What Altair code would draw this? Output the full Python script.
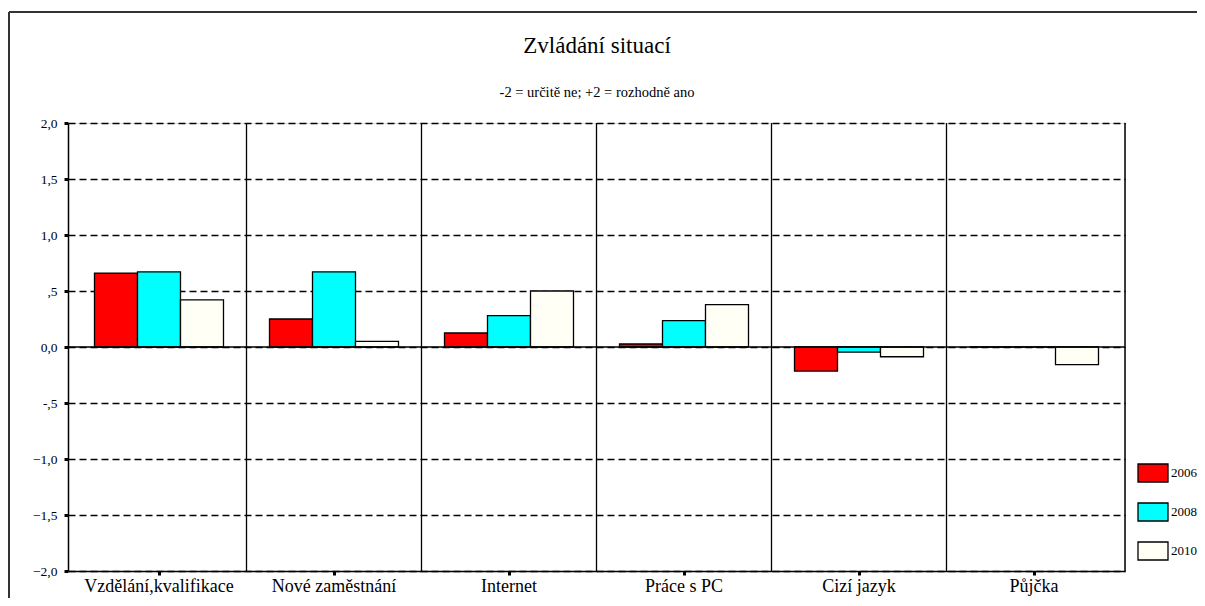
import altair as alt
import pandas as pd

categories = ["Vzdělání,kvalifikace", "Nové zaměstnání", "Internet", "Práce s PC", "Cizí jazyk", "Půjčka"]
years = ["2006", "2008", "2010"]
v2006 = [0.66, 0.25, 0.125, 0.027, -0.215, 0.0]
v2008 = [0.67, 0.67, 0.28, 0.235, -0.045, 0.0]
v2010 = [0.42, 0.05, 0.50, 0.378, -0.087, -0.158]
colors = ["#FF0000", "#00FFFF", "#FFFFF6"]
y_ticks = [-2.0, -1.5, -1.0, -0.5, 0.0, 0.5, 1.0, 1.5, 2.0]
title_text = "Zvládání situací"
subtitle_text = "-2 = určitě ne; +2 = rozhodně ano"

rows = []
for i, c in enumerate(categories):
    for y, vals in zip(years, [v2006, v2008, v2010]):
        rows.append({"cat": c, "year": y, "value": vals[i]})
df = pd.DataFrame(rows)
cat_df = pd.DataFrame({"cat": categories})
one = pd.DataFrame({"t": [title_text], "s": [subtitle_text]})

FONT = "Liberation Serif"

x_scale = alt.Scale(paddingInner=0, paddingOuter=0.02, round=False)
x_enc = alt.X("cat:N", sort=categories, title=None, scale=x_scale,
              axis=alt.Axis(labelAngle=0, labelFont=FONT, labelFontSize=18, labelColor="black",
                            labelPadding=2, tickSize=4, tickWidth=3, tickColor="black",
                            domainColor="black", domainWidth=1.5, grid=False))

y_scale = alt.Scale(domain=[-2, 2], nice=False)
label_expr = "datum.value == 0 ? '0,0' : (abs(datum.value) < 1 ? (datum.value < 0 ? '-' : '') + ',5' : replace(format(datum.value, '.1f'), '.', ','))"

bars = alt.Chart(df).mark_bar(stroke="black", strokeWidth=1.3).encode(
    x=x_enc,
    xOffset=alt.XOffset("year:N", sort=years,
                        scale=alt.Scale(paddingInner=0, paddingOuter=0.535)),
    y=alt.Y("value:Q", scale=y_scale, title=None,
            axis=alt.Axis(values=y_ticks, labelExpr=label_expr, labelFont=FONT, labelFontSize=13.5,
                          labelColor="black", labelPadding=7, tickSize=4, tickWidth=3,
                          tickColor="black", domainColor="black", domainWidth=1.5,
                          grid=True, gridColor="black", gridDash=[7, 4], gridWidth=1.3)),
    color=alt.Color("year:N", sort=years, scale=alt.Scale(domain=years, range=colors),
                    legend=alt.Legend(title=None, orient="none", legendX=1069, legendY=334,
                                      padding=0, symbolType="M-1,-0.6H1V0.6H-1Z", symbolSize=900,
                                      symbolStrokeColor="black", symbolStrokeWidth=1.3,
                                      symbolOpacity=1, labelFont=FONT, labelFontSize=13,
                                      labelColor="black", labelOffset=2, rowPadding=11)),
)

sep = alt.Chart(cat_df.iloc[1:]).mark_rule(color="black", strokeWidth=1.3).encode(
    x=alt.X("cat:N", sort=categories, scale=x_scale, bandPosition=0)
)
right_edge = alt.Chart(one).mark_rule(color="black", strokeWidth=1.5).encode(
    x=alt.value(1057), y=alt.value(0), y2=alt.value(448)
)
zero = alt.Chart(one).mark_rule(color="black", strokeWidth=1.3).encode(
    y=alt.datum(0)
)
frame_left = alt.Chart(one).mark_rule(color="#333", strokeWidth=2).encode(
    x=alt.value(-59), y=alt.value(-111), y2=alt.value(480)
)
frame_top = alt.Chart(one).mark_rule(color="#333", strokeWidth=2).encode(
    x=alt.value(-59), x2=alt.value(1129), y=alt.value(-111)
)
title = alt.Chart(one).mark_text(font=FONT, fontSize=23, color="black", align="center",
                                 baseline="alphabetic").encode(
    text="t:N", x=alt.value(529), y=alt.value(-70.5)
)
subtitle = alt.Chart(one).mark_text(font=FONT, fontSize=14.5, color="black", align="center",
                                    baseline="alphabetic").encode(
    text="s:N", x=alt.value(529), y=alt.value(-26)
)

chart = alt.layer(bars, sep, right_edge, zero, frame_left, frame_top, title, subtitle).properties(
    width=1057, height=448,
    autosize=alt.AutoSizeParams(type="none"),
    padding={"left": 60, "top": 115, "right": 72, "bottom": 27},
).configure_view(stroke=None).configure(background="white")

chart.save("out.html", embed_options={"renderer": "svg", "actions": False})
